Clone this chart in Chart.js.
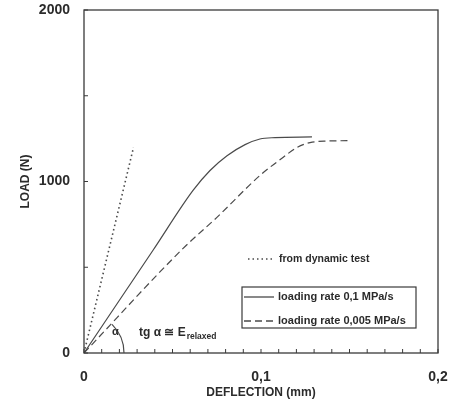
<!DOCTYPE html>
<html>
<head>
<meta charset="utf-8">
<script src="https://cdn.jsdelivr.net/npm/chart.js@4/dist/chart.umd.min.js"></script>
<style>
html, body { margin: 0; padding: 0; background: #fff; }
</style>
</head>
<body>
<canvas id="graphCanvas" width="460" height="405"></canvas>
<script>
// deflection (mm) / load (N)
const dynamicDefl = [0, 0.028];
const dynamicLoad = [0, 1200];

const fastDefl = [0, 0.039, 0.0616, 0.0712, 0.0808, 0.091, 0.0994, 0.108, 0.1288];
const fastLoad = [0, 599, 948, 1064, 1150, 1215, 1248, 1256, 1260];

const slowDefl = [0, 0.056, 0.0751, 0.0994, 0.1124, 0.1203, 0.1277, 0.138, 0.149];
const slowLoad = [0, 610, 791, 1035, 1140, 1198, 1227, 1236, 1238];

const xTickLabels = ["0", "0,1", "0,2"];
const yTickLabels = ["0", "1000", "2000"];

const ink = "#2b2b2b";
const lineInk = "#4a4a4a";
const fontFam = "'Liberation Sans', Arial, sans-serif";

function pts(xs, ys){
    return xs.map((v, i) => ({x: v, y: ys[i]}));
}

function noPad(s){
    s.paddingTop = 0;
    s.paddingBottom = 0;
    s.paddingLeft = 0;
    s.paddingRight = 0;
}

const overlay = {
    id: "overlay",
    afterDraw(chart){
        const ctx = chart.ctx;
        const a = chart.chartArea;
        const x = chart.scales.x;
        const y = chart.scales.y;
        ctx.save();
        // frame
        ctx.strokeStyle = "#3a3a3a";
        ctx.lineWidth = 1.3;
        ctx.strokeRect(a.left, a.top, a.right - a.left, a.bottom - a.top);
        // inward ticks
        ctx.lineWidth = 1;
        x.ticks.forEach(t => {
            const px = x.getPixelForValue(t.value);
            ctx.beginPath();
            ctx.moveTo(px, a.bottom);
            ctx.lineTo(px, a.bottom - 4);
            ctx.stroke();
        });
        y.ticks.forEach(t => {
            const py = y.getPixelForValue(t.value);
            ctx.beginPath();
            ctx.moveTo(a.left, py);
            ctx.lineTo(a.left + 4, py);
            ctx.stroke();
        });
        // angle arc between x axis and the slow loading line
        const ox = x.getPixelForValue(0);
        const oy = y.getPixelForValue(0);
        const ang = Math.atan2(oy - y.getPixelForValue(slowLoad[2]), x.getPixelForValue(slowDefl[2]) - ox);
        ctx.strokeStyle = lineInk;
        ctx.lineWidth = 1.2;
        ctx.beginPath();
        ctx.arc(ox, oy, 40, -ang, 0);
        ctx.stroke();
        ctx.fillStyle = ink;
        ctx.textBaseline = "middle";
        ctx.font = "bold 11px " + fontFam;
        ctx.fillText("α", ox + 28, oy - 21);
        ctx.font = "bold 12px " + fontFam;
        let tx = ox + 55;
        const main = "tg α ≅ E";
        ctx.fillText(main, tx, oy - 20);
        tx += ctx.measureText(main).width;
        ctx.font = "bold 8.5px " + fontFam;
        ctx.fillText("relaxed", tx + 1, oy - 16);

        // legend
        const ds = chart.data.datasets;
        const lx = a.left + 158;
        const ly0 = a.bottom - 94;
        ctx.font = "bold 10.5px " + fontFam;
        ctx.strokeStyle = lineInk;
        ctx.lineWidth = 1.3;
        ctx.setLineDash(ds[0].borderDash);
        ctx.beginPath();
        ctx.moveTo(lx + 6, ly0);
        ctx.lineTo(lx + 32, ly0);
        ctx.stroke();
        ctx.setLineDash([]);
        ctx.fillText(ds[0].label, lx + 37, ly0);

        ctx.strokeStyle = "#3a3a3a";
        ctx.lineWidth = 1.2;
        ctx.strokeRect(lx, ly0 + 28, 174, 41);
        ctx.font = "bold 11px " + fontFam;
        [1, 2].forEach((k, i) => {
            const ly = ly0 + 38 + i * 24;
            ctx.strokeStyle = lineInk;
            ctx.lineWidth = 1.3;
            ctx.setLineDash(ds[k].borderDash);
            ctx.beginPath();
            ctx.moveTo(lx + 2, ly);
            ctx.lineTo(lx + 32, ly);
            ctx.stroke();
            ctx.setLineDash([]);
            ctx.fillText(ds[k].label, lx + 36, ly);
        });
        ctx.restore();
    }
};

const config = {
    type: "line",
    data: {
        datasets: [
            {
                label: "from dynamic test",
                data: pts(dynamicDefl, dynamicLoad),
                borderColor: lineInk,
                borderWidth: 1.6,
                borderDash: [1.5, 3],
                pointRadius: 0
            },
            {
                label: "loading rate 0,1 MPa/s",
                data: pts(fastDefl, fastLoad),
                borderColor: lineInk,
                borderWidth: 1.2,
                borderDash: [],
                pointRadius: 0,
                cubicInterpolationMode: "monotone"
            },
            {
                label: "loading rate 0,005 MPa/s",
                data: pts(slowDefl, slowLoad),
                borderColor: lineInk,
                borderWidth: 1.2,
                borderDash: [7, 4],
                pointRadius: 0,
                cubicInterpolationMode: "monotone"
            }
        ]
    },
    options: {
        responsive: false,
        animation: false,
        layout: { padding: { top: 10, right: 22, left: 0, bottom: 0 } },
        plugins: { legend: { display: false }, tooltip: { enabled: false } },
        scales: {
            x: {
                type: "linear",
                min: 0,
                max: 0.2,
                grid: { display: false, drawTicks: false },
                border: { display: false },
                afterFit: s => { s.height = 52; noPad(s); },
                ticks: {
                    stepSize: 0.01,
                    autoSkip: false,
                    maxRotation: 0,
                    padding: 16,
                    color: ink,
                    font: { family: fontFam, size: 14, weight: "bold" },
                    callback: v => {
                        const k = Math.round(v * 100);
                        return k % 10 === 0 ? xTickLabels[k / 10] : "";
                    }
                },
                title: {
                    display: true,
                    text: "DEFLECTION (mm)",
                    color: ink,
                    font: { family: fontFam, size: 12, weight: "bold" },
                    padding: { top: 0, bottom: 5 }
                }
            },
            y: {
                min: 0,
                max: 2000,
                grid: { display: false, drawTicks: false },
                border: { display: false },
                afterFit: s => { s.width = 84; noPad(s); },
                ticks: {
                    stepSize: 500,
                    padding: 14,
                    color: ink,
                    font: { family: fontFam, size: 14, weight: "bold" },
                    callback: v => (v % 1000 === 0 ? yTickLabels[v / 1000] : "")
                },
                title: {
                    display: true,
                    text: "LOAD (N)",
                    color: ink,
                    font: { family: fontFam, size: 12, weight: "bold" },
                    padding: { top: 18, bottom: 0 }
                }
            }
        }
    },
    plugins: [overlay]
};

const chart = new Chart(document.getElementById("graphCanvas").getContext("2d"), config);
</script>
</body>
</html>
